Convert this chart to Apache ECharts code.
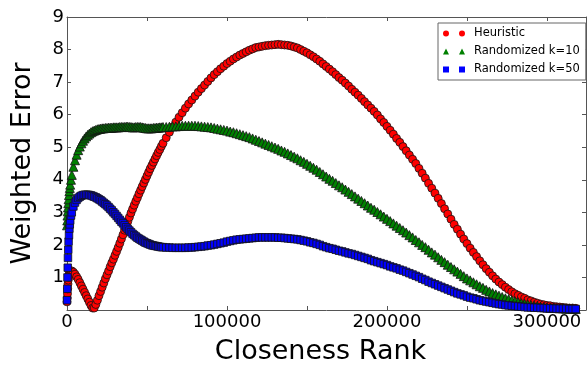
<!DOCTYPE html>
<html>
<head>
<meta charset="utf-8">
<script src="https://cdn.jsdelivr.net/npm/echarts@6/dist/echarts.min.js"></script>
<style>
  html, body { margin: 0; padding: 0; background: #fff; }
  #chart { width: 588px; height: 370px; }
</style>
</head>
<body>
<div id="chart"></div>
<script>
// Closeness rank sample positions (shared by all three series)
const ranks = [
  0, 150, 300, 450, 600, 800, 1000, 1250, 1500, 1750, 2000, 2500,
  3000, 4000, 5000, 6000, 7000, 8000, 9000, 10000, 11000, 12000,
  13000, 14000, 15000, 16000, 17000, 18000, 19000, 20000, 21000, 22000,
  23000, 24000, 25000, 26000, 27000, 28000, 29000, 30000, 31000, 32000,
  33000, 34000, 35000, 36000, 37000, 38000, 39000, 40000, 41000, 42000,
  43000, 44000, 45000, 46000, 47000, 48000, 49000, 50000, 51000, 52000,
  53000, 54000, 55000, 56000, 57000, 58000, 59000, 60000,
  62000, 64000, 66000, 68000, 70000, 72000, 74000, 76000, 78000, 80000,
  82000, 84000, 86000, 88000, 90000, 92000, 94000, 96000, 98000, 100000,
  102000, 104000, 106000, 108000, 110000, 112000, 114000, 116000, 118000, 120000,
  122000, 124000, 126000, 128000, 130000, 132000, 134000, 136000, 138000, 140000,
  142000, 144000, 146000, 148000, 150000, 152000, 154000, 156000, 158000, 160000,
  162000, 164000, 166000, 168000, 170000, 172000, 174000, 176000, 178000, 180000,
  182000, 184000, 186000, 188000, 190000, 192000, 194000, 196000, 198000, 200000,
  202000, 204000, 206000, 208000, 210000, 212000, 214000, 216000, 218000, 220000,
  222000, 224000, 226000, 228000, 230000, 232000, 234000, 236000, 238000, 240000,
  242000, 244000, 246000, 248000, 250000, 252000, 254000, 256000, 258000, 260000,
  262000, 264000, 266000, 268000, 270000, 272000, 274000, 276000, 278000, 280000,
  282000, 284000, 286000, 288000, 290000, 292000, 294000, 296000, 298000, 300000,
  302000, 304000, 306000, 308000, 310000, 312000, 314000, 316000, 318000
];

// Weighted error, heuristic method
const heuristic = [
  0.25, 0.37, 0.5, 0.65, 0.8, 0.92, 1.0, 1.07, 1.12, 1.16, 1.18, 1.2,
  1.2, 1.16, 1.1, 1.02, 0.94, 0.84, 0.74, 0.64, 0.54, 0.44,
  0.34, 0.24, 0.14, 0.06, 0.06, 0.17, 0.3, 0.44, 0.57, 0.7,
  0.83, 0.96, 1.08, 1.2, 1.33, 1.45, 1.56, 1.68, 1.8, 1.92,
  2.05, 2.18, 2.31, 2.45, 2.58, 2.72, 2.85, 2.98, 3.1, 3.22,
  3.34, 3.45, 3.57, 3.68, 3.79, 3.9, 4.01, 4.12, 4.23, 4.34,
  4.44, 4.54, 4.64, 4.74, 4.84, 4.93, 5.03, 5.12,
  5.29, 5.46, 5.62, 5.77, 5.92, 6.06, 6.2, 6.33, 6.45, 6.57,
  6.69, 6.8, 6.91, 7.02, 7.13, 7.23, 7.32, 7.41, 7.49, 7.57,
  7.64, 7.71, 7.77, 7.83, 7.88, 7.93, 7.98, 8.02, 8.06, 8.08,
  8.1, 8.12, 8.13, 8.14, 8.15, 8.16, 8.15, 8.14, 8.13, 8.11,
  8.08, 8.05, 8.0, 7.95, 7.9, 7.84, 7.78, 7.71, 7.64, 7.56,
  7.48, 7.4, 7.32, 7.23, 7.14, 7.06, 6.97, 6.88, 6.78, 6.69,
  6.6, 6.5, 6.4, 6.3, 6.2, 6.1, 5.99, 5.87, 5.76, 5.64,
  5.52, 5.4, 5.27, 5.15, 5.02, 4.89, 4.76, 4.63, 4.5, 4.35,
  4.2, 4.05, 3.89, 3.74, 3.59, 3.43, 3.27, 3.11, 2.95, 2.79,
  2.63, 2.48, 2.33, 2.18, 2.04, 1.9, 1.77, 1.64, 1.51, 1.39,
  1.27, 1.16, 1.05, 0.95, 0.86, 0.78, 0.7, 0.63, 0.56, 0.5,
  0.45, 0.4, 0.36, 0.31, 0.28, 0.24, 0.21, 0.18, 0.16, 0.14,
  0.13, 0.11, 0.1, 0.09, 0.08, 0.07, 0.06, 0.06, 0.05
];

// Weighted error, randomized with k=10
const randomK10 = [
  2.6, 2.75, 2.9, 3.03, 3.15, 3.28, 3.4, 3.53, 3.65, 3.75, 3.85, 4.0,
  4.15, 4.4, 4.6, 4.77, 4.91, 5.02, 5.12, 5.2, 5.27, 5.33,
  5.38, 5.42, 5.46, 5.49, 5.51, 5.53, 5.55, 5.56, 5.57, 5.58,
  5.58, 5.59, 5.59, 5.6, 5.6, 5.6, 5.61, 5.61, 5.61, 5.61,
  5.62, 5.62, 5.62, 5.62, 5.63, 5.63, 5.62, 5.62, 5.61, 5.61,
  5.62, 5.62, 5.62, 5.62, 5.61, 5.6, 5.59, 5.58, 5.58, 5.58,
  5.58, 5.59, 5.59, 5.6, 5.6, 5.61, 5.61, 5.62,
  5.62, 5.63, 5.64, 5.64, 5.65, 5.66, 5.66, 5.66, 5.66, 5.66,
  5.65, 5.64, 5.63, 5.62, 5.61, 5.59, 5.57, 5.55, 5.53, 5.51,
  5.48, 5.46, 5.43, 5.4, 5.37, 5.34, 5.31, 5.27, 5.23, 5.19,
  5.15, 5.11, 5.07, 5.03, 4.99, 4.95, 4.9, 4.86, 4.81, 4.76,
  4.71, 4.66, 4.6, 4.55, 4.49, 4.43, 4.37, 4.31, 4.24, 4.17,
  4.1, 4.03, 3.97, 3.9, 3.83, 3.77, 3.7, 3.63, 3.56, 3.49,
  3.42, 3.35, 3.28, 3.21, 3.14, 3.08, 3.01, 2.94, 2.87, 2.8,
  2.73, 2.66, 2.59, 2.52, 2.45, 2.38, 2.3, 2.23, 2.15, 2.08,
  2.0, 1.93, 1.85, 1.77, 1.7, 1.62, 1.54, 1.47, 1.39, 1.32,
  1.25, 1.18, 1.11, 1.04, 0.97, 0.91, 0.85, 0.79, 0.73, 0.68,
  0.62, 0.57, 0.52, 0.48, 0.44, 0.4, 0.36, 0.33, 0.3, 0.27,
  0.24, 0.21, 0.19, 0.17, 0.15, 0.13, 0.12, 0.1, 0.09, 0.08,
  0.07, 0.07, 0.06, 0.05, 0.05, 0.04, 0.04, 0.04, 0.03
];

// Weighted error, randomized with k=50
const randomK50 = [
  0.3, 0.65, 1.0, 1.3, 1.6, 1.85, 2.1, 2.3, 2.5, 2.63, 2.75, 2.9,
  3.0, 3.18, 3.3, 3.38, 3.44, 3.48, 3.51, 3.53, 3.54, 3.54,
  3.54, 3.53, 3.52, 3.5, 3.48, 3.46, 3.43, 3.4, 3.37, 3.33,
  3.29, 3.25, 3.21, 3.16, 3.11, 3.06, 3.0, 2.95, 2.89, 2.83,
  2.77, 2.71, 2.66, 2.6, 2.54, 2.49, 2.44, 2.39, 2.34, 2.3,
  2.26, 2.22, 2.19, 2.16, 2.13, 2.1, 2.07, 2.05, 2.03, 2.01,
  1.99, 1.98, 1.97, 1.96, 1.95, 1.94, 1.93, 1.93,
  1.92, 1.92, 1.91, 1.91, 1.91, 1.91, 1.91, 1.92, 1.92, 1.93,
  1.94, 1.95, 1.96, 1.98, 1.99, 2.01, 2.03, 2.05, 2.07, 2.1,
  2.12, 2.14, 2.16, 2.17, 2.18, 2.19, 2.2, 2.21, 2.22, 2.23,
  2.23, 2.23, 2.23, 2.23, 2.23, 2.22, 2.22, 2.21, 2.2, 2.19,
  2.18, 2.17, 2.15, 2.13, 2.11, 2.08, 2.06, 2.03, 2.0, 1.96,
  1.93, 1.9, 1.88, 1.85, 1.82, 1.8, 1.77, 1.74, 1.72, 1.69,
  1.66, 1.63, 1.6, 1.57, 1.53, 1.5, 1.47, 1.44, 1.41, 1.38,
  1.34, 1.31, 1.28, 1.24, 1.21, 1.17, 1.13, 1.09, 1.05, 1.01,
  0.96, 0.92, 0.87, 0.83, 0.79, 0.75, 0.71, 0.67, 0.63, 0.59,
  0.55, 0.51, 0.48, 0.45, 0.41, 0.38, 0.36, 0.33, 0.3, 0.28,
  0.26, 0.24, 0.22, 0.2, 0.18, 0.17, 0.15, 0.14, 0.13, 0.12,
  0.11, 0.1, 0.09, 0.08, 0.08, 0.07, 0.07, 0.06, 0.06, 0.05,
  0.05, 0.05, 0.04, 0.04, 0.04, 0.04, 0.03, 0.03, 0.03
];

const seriesNames = ['Heuristic', 'Randomized k=10', 'Randomized k=50'];
const xTickLabels = [0, 100000, 200000, 300000];
const yTickLabels = [1, 2, 3, 4, 5, 6, 7, 8, 9];

const FONT = 'DejaVu Sans';
const AXIS_COLOR = '#555';

// Paired legend icons (two markers per entry)
const legendIcons = [
  'path://M0,3A3,3 0 1,1 6,3A3,3 0 1,1 0,3Z M16,3A3,3 0 1,1 22,3A3,3 0 1,1 16,3Z',
  'path://M0,6L3,0L6,6Z M16,6L19,0L22,6Z',
  'path://M0,0H6V6H0Z M16,0H22V6H16Z'
];

const pairs = (vals) => ranks.map((r, i) => [r, vals[i]]);

const markerStyle = (color) => ({
  color: color,
  borderColor: '#141414',
  borderWidth: 0.8,
  opacity: 1
});

const chart = echarts.init(document.getElementById('chart'), null, { renderer: 'canvas' });

const frameAxis = {
  axisLine: { show: true, onZero: false, lineStyle: { color: AXIS_COLOR, width: 1 } },
  axisTick: { show: true, inside: true, length: 4, lineStyle: { color: AXIS_COLOR } },
  splitLine: { show: false }
};

chart.setOption({
  animation: false,
  backgroundColor: '#fff',
  grid: { left: 67, right: 2, top: 17, bottom: 58, containLabel: false },
  legend: {
    left: 438,
    top: 23,
    orient: 'vertical',
    padding: [4, 6, 4, 5],
    itemGap: 5,
    itemWidth: 22,
    itemHeight: 6,
    borderColor: '#666',
    borderWidth: 1,
    backgroundColor: '#fff',
    textStyle: { fontFamily: FONT, fontSize: 11.5, color: '#000', padding: [0, 0, 0, 4], lineHeight: 13 },
    itemStyle: { borderWidth: 0 },
    data: seriesNames.map((n, i) => ({ name: n, icon: legendIcons[i] }))
  },
  xAxis: [
    Object.assign({
      type: 'value',
      min: 0,
      max: 324400,
      interval: 50000,
      name: 'Closeness Rank',
      nameLocation: 'middle',
      nameGap: 28,
      nameTextStyle: { fontFamily: FONT, fontSize: 27, color: '#000', padding: [0, 12, 0, 0] },
      axisLabel: {
        fontFamily: FONT, fontSize: 18, color: '#000', margin: 3,
        showMaxLabel: false,
        formatter: (v) => (xTickLabels.indexOf(v) >= 0 ? String(v) : '')
      }
    }, frameAxis),
    Object.assign({
      type: 'value', position: 'top', min: 0, max: 324400, interval: 50000,
      axisLabel: { show: false }
    }, frameAxis)
  ],
  yAxis: [
    Object.assign({
      type: 'value',
      min: 0,
      max: 9,
      interval: 1,
      name: 'Weighted Error',
      nameLocation: 'middle',
      nameGap: 31,
      nameRotate: 90,
      nameTextStyle: { fontFamily: FONT, fontSize: 27, color: '#000' },
      axisLabel: {
        fontFamily: FONT, fontSize: 18, color: '#000', margin: 3,
        formatter: (v) => (yTickLabels.indexOf(v) >= 0 ? String(v) : '')
      }
    }, frameAxis),
    Object.assign({
      type: 'value', position: 'right', min: 0, max: 9, interval: 1,
      axisLabel: { show: false }
    }, frameAxis)
  ],
  series: [
    {
      name: seriesNames[0], type: 'scatter', symbol: 'circle', symbolSize: 8,
      itemStyle: markerStyle('#ff0000'), data: pairs(heuristic), z: 2
    },
    {
      name: seriesNames[1], type: 'scatter', symbol: 'triangle', symbolSize: 9,
      itemStyle: markerStyle('#008000'), data: pairs(randomK10), z: 3
    },
    {
      name: seriesNames[2], type: 'scatter', symbol: 'rect', symbolSize: 7.5,
      itemStyle: markerStyle('#0000ff'), data: pairs(randomK50), z: 4
    }
  ]
});
</script>
</body>
</html>
